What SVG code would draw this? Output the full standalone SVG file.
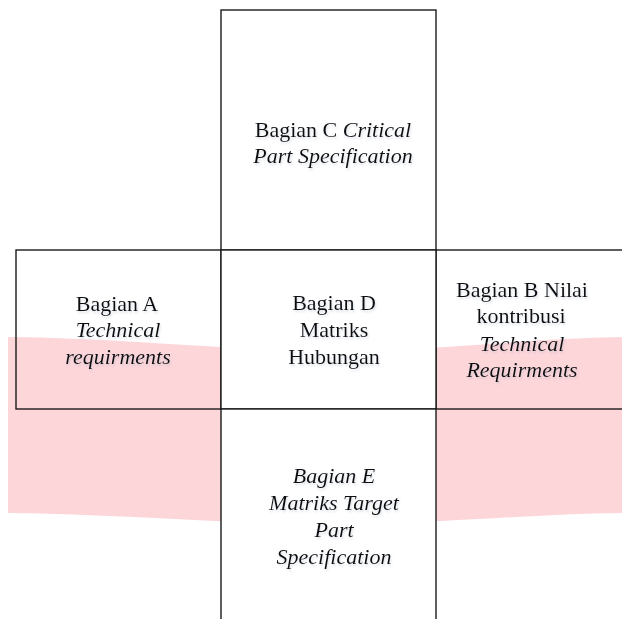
<svg xmlns="http://www.w3.org/2000/svg" width="622" height="619" viewBox="0 0 622 619">
<defs>
<filter id="sh" x="-10%" y="-10%" width="120%" height="130%">
<feDropShadow dx="1" dy="2" stdDeviation="1.2" flood-color="#9aa6bd" flood-opacity="0.35"/>
</filter>
<style>
.box{stroke:#1a1a1a;stroke-width:1.4}
.open{fill:none}
.solid{fill:#ffffff}
text{font-family:"Liberation Serif","Times New Roman",serif;font-size:22px;fill:#111;text-anchor:middle}
.i{font-style:italic}
.lbl{filter:url(#sh)}
</style>
</defs>
<rect width="622" height="619" fill="#ffffff"/>
<path id="band" d="M8,337 C120,338 220,350 330,351 C440,351 530,338 622,337 L622,513 C530,514 440,524 330,524 C220,524 120,514 8,513 Z" fill="#fdd6da"/>
<g id="nodeA">
<rect class="box open" x="16" y="250" width="205" height="159"/>
<g class="lbl">
<text x="117" y="311">Bagian A</text>
<text x="118" y="337" class="i">Technical</text>
<text x="118" y="364" class="i">requirments</text>
</g>
</g>
<g id="nodeB">
<rect class="box open" x="436" y="250" width="200" height="159"/>
<g class="lbl">
<text x="522" y="297">Bagian B Nilai</text>
<text x="521" y="323">kontribusi</text>
<text x="522" y="351" class="i">Technical</text>
<text x="522" y="377" class="i">Requirments</text>
</g>
</g>
<g id="nodeC">
<rect class="box solid" x="221" y="10" width="215" height="240"/>
<g class="lbl">
<text x="333" y="137">Bagian C <tspan class="i">Critical</tspan></text>
<text x="333" y="163" class="i">Part Specification</text>
</g>
</g>
<g id="nodeD">
<rect class="box solid" x="221" y="250" width="215" height="159"/>
<g class="lbl">
<text x="334" y="310">Bagian D</text>
<text x="334" y="337">Matriks</text>
<text x="334" y="364">Hubungan</text>
</g>
</g>
<g id="nodeE">
<rect class="box solid" x="221" y="409" width="215" height="220"/>
<g class="lbl">
<text x="334" y="483" class="i">Bagian E</text>
<text x="334" y="510" class="i">Matriks Target</text>
<text x="334" y="537" class="i">Part</text>
<text x="334" y="564" class="i">Specification</text>
</g>
</g>
<g id="connectors"/>
</svg>
